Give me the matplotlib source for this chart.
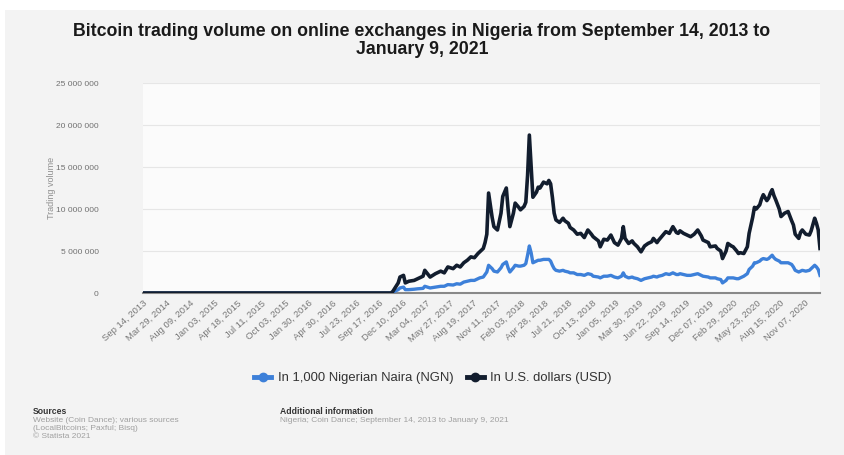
import numpy as np
import matplotlib.pyplot as plt
from matplotlib.patches import Rectangle
from matplotlib.lines import Line2D
from matplotlib.ticker import FuncFormatter

plt.rcParams['font.family'] = ['Liberation Sans', 'DejaVu Sans']

### Data ###
# week index since Sep 14, 2013 (weekly observations, last = Jan 9, 2021)
week = [0, 140, 141, 144, 145, 147, 148, 150, 153, 155, 158, 159, 162, 165, 168, 170,
        172, 175, 177, 179, 181, 183, 185, 187, 189, 190, 192, 193, 194, 195, 197, 198,
        200, 202, 203, 205, 206, 207, 209, 210, 212, 213, 215, 216, 217, 218, 219, 220,
        222, 223, 224, 226, 228, 229, 230, 231, 232, 233, 235, 237, 238, 240, 241, 243,
        245, 247, 249, 251, 253, 254, 257, 258, 260, 262, 264, 266, 268, 270, 271, 272,
        274, 276, 277, 279, 281, 283, 285, 287, 288, 290, 291, 293, 295, 297, 299, 301,
        302, 303, 305, 307, 309, 311, 313, 315, 316, 319, 320, 323, 324, 326, 327, 329,
        330, 332, 333, 335, 336, 337, 339, 341, 342, 344, 345, 346, 348, 349, 350, 352,
        353, 354, 355, 356, 357, 359, 360, 362, 364, 366, 367, 368, 370, 371, 372, 374,
        376, 377, 379, 380, 381, 382]

# trading volume in U.S. dollars (millions)
usd_m = [0, 0, 0.2, 1.2, 1.9, 2.1, 1.2, 1.4, 1.5, 1.7, 2.0, 2.7, 1.9, 2.3, 2.6, 2.4,
         3.1, 2.9, 3.3, 3.1, 3.6, 3.9, 4.3, 4.2, 4.7, 4.9, 5.3, 6.0, 7.0, 11.9, 9.0, 7.9,
         7.5, 9.5, 11.5, 12.5, 10.0, 7.9, 9.5, 10.7, 10.2, 9.9, 10.3, 10.8, 14.0, 18.8, 15.0, 11.4,
         12.0, 12.6, 12.5, 13.2, 13.0, 13.4, 13.0, 11.4, 9.5, 8.7, 8.4, 8.9, 8.6, 8.3, 7.8, 7.5,
         7.0, 7.1, 6.6, 7.5, 7.0, 6.7, 6.2, 5.5, 6.4, 6.3, 6.9, 6.0, 5.7, 6.5, 7.9, 6.5,
         5.9, 6.2, 5.9, 5.5, 4.9, 5.6, 5.9, 6.1, 6.5, 6.0, 6.3, 6.8, 7.3, 7.1, 7.9, 7.2,
         7.1, 7.4, 7.1, 6.9, 6.7, 7.0, 7.5, 6.8, 6.3, 6.0, 5.5, 5.6, 5.3, 5.0, 4.1, 5.0,
         5.9, 5.6, 5.5, 5.0, 4.7, 4.8, 4.7, 5.5, 7.1, 9.0, 10.2, 10.0, 10.5, 11.2, 11.7, 11.0,
         11.3, 11.9, 12.3, 11.6, 11.1, 10.0, 9.1, 9.5, 9.7, 8.6, 8.1, 7.0, 6.5, 7.2, 7.5, 7.0,
         6.9, 7.4, 8.9, 8.3, 7.5, 5.3]

# trading volume in 1,000 Nigerian Naira (millions)
ngn_m = [0, 0, 0.1, 0.4, 0.6, 0.7, 0.4, 0.4, 0.45, 0.5, 0.55, 0.8, 0.6, 0.7, 0.8, 0.8,
         1.0, 0.95, 1.1, 1.05, 1.3, 1.4, 1.5, 1.5, 1.7, 1.8, 1.9, 2.2, 2.5, 3.3, 2.9, 2.6,
         2.5, 3.0, 3.4, 3.7, 3.0, 2.5, 3.0, 3.3, 3.2, 3.2, 3.3, 3.5, 4.5, 5.6, 4.8, 3.6,
         3.8, 3.9, 3.9, 4.0, 4.0, 4.0, 3.8, 3.3, 2.9, 2.7, 2.6, 2.7, 2.6, 2.5, 2.4, 2.4,
         2.2, 2.2, 2.1, 2.3, 2.2, 2.0, 1.9, 1.8, 2.0, 2.0, 2.1, 1.9, 1.8, 2.0, 2.4, 2.0,
         1.8, 1.9, 1.8, 1.7, 1.5, 1.7, 1.8, 1.9, 2.0, 1.9, 2.0, 2.1, 2.3, 2.2, 2.4, 2.2,
         2.2, 2.3, 2.2, 2.1, 2.1, 2.2, 2.3, 2.1, 2.0, 1.9, 1.8, 1.8, 1.7, 1.6, 1.2, 1.5,
         1.8, 1.8, 1.8, 1.7, 1.7, 1.8, 2.0, 2.3, 2.8, 3.2, 3.6, 3.6, 3.8, 4.0, 4.1, 4.0,
         4.1, 4.3, 4.5, 4.2, 4.0, 3.8, 3.6, 3.6, 3.6, 3.4, 3.1, 2.7, 2.5, 2.6, 2.7, 2.6,
         2.7, 2.9, 3.3, 3.1, 2.8, 2.1]

tick_labels = ["Sep 14, 2013", "Mar 29, 2014", "Aug 09, 2014", "Jan 03, 2015", "Apr 18, 2015",
               "Jul 11, 2015", "Oct 03, 2015", "Jan 30, 2016", "Apr 30, 2016", "Jul 23, 2016",
               "Sep 17, 2016", "Dec 10, 2016", "Mar 04, 2017", "May 27, 2017", "Aug 19, 2017",
               "Nov 11, 2017", "Feb 03, 2018", "Apr 28, 2018", "Jul 21, 2018", "Oct 13, 2018",
               "Jan 05, 2019", "Mar 30, 2019", "Jun 22, 2019", "Sep 14, 2019", "Dec 07, 2019",
               "Feb 29, 2020", "May 23, 2020", "Aug 15, 2020", "Nov 07, 2020"]

series_labels = ["In 1,000 Nigerian Naira (NGN)", "In U.S. dollars (USD)"]
NGN_COLOR = '#3d80d9'
USD_COLOR = '#121d2e'

### Figure ###
fig = plt.figure(figsize=(8.44, 4.55), dpi=100)
fig.patch.set_facecolor('white')
# grey card behind the chart
fig.patches.append(Rectangle((5 / 844, 0), 1, 1 - 10 / 455, transform=fig.transFigure,
                             facecolor='#f3f3f3', edgecolor='none', zorder=-10))

ax = fig.add_axes([143 / 844, 1 - 293 / 455, 677 / 844, 210 / 455])
ax.set_zorder(1)
ax.set_facecolor('#fbfbfb')

x = np.array(week)
ax.plot(x, np.array(ngn_m) * 1e6, color=NGN_COLOR, lw=2.4, solid_joinstyle='round', zorder=3)
ax.plot(x, np.array(usd_m) * 1e6, color=USD_COLOR, lw=2.6, solid_joinstyle='round', zorder=4)

ax.set_xlim(0, 382)
ax.set_ylim(0, 25e6)
ax.set_yticks(np.arange(0, 25e6 + 1, 5e6))
ax.yaxis.set_major_formatter(FuncFormatter(lambda v, p: f"{int(v):,}".replace(',', ' ')))
ax.grid(axis='y', color='#e6e6e6', lw=0.8, zorder=0)

ax.set_xticks(np.linspace(0, 373, len(tick_labels)))
ax.set_xticklabels(tick_labels, rotation=42, ha='right', rotation_mode='anchor',
                   fontsize=6.8, color='#777777')
ax.tick_params(axis='x', length=0, pad=4)
ax.tick_params(axis='y', length=0, pad=32, labelsize=6, colors='#707070')

for side in ['top', 'right', 'left']:
    ax.spines[side].set_visible(False)
ax.spines['bottom'].set_color('#888888')
ax.spines['bottom'].set_linewidth(1.5)

ax.set_ylabel('Trading volume', fontsize=6.5, color='#909090')
ax.yaxis.set_label_coords(-0.128, 0.5)

### Title ###
fig.text(0.5, 1 - 32 / 455, "Bitcoin trading volume on online exchanges in Nigeria from September 14, 2013 to",
         ha='center', va='center', fontsize=12.8, fontweight='bold', color='#1a1a1a')
fig.text(0.5, 1 - 49 / 455, "January 9, 2021",
         ha='center', va='center', fontsize=12.8, fontweight='bold', color='#1a1a1a')

### Legend ###
handles = [Line2D([0], [0], color=NGN_COLOR, lw=3.5, marker='o', ms=6),
           Line2D([0], [0], color=USD_COLOR, lw=3.5, marker='o', ms=6)]
fig.legend(handles, series_labels, loc='center', bbox_to_anchor=(0.513, 1 - 378 / 455), ncol=2,
           frameon=False, fontsize=9.4, handlelength=1.3, columnspacing=1.0, handletextpad=0.5,
           labelcolor='#333333')

### Footer ###
fig.text(33 / 844, 1 - 411 / 455, "Sources", fontsize=6.2, fontweight='bold', color='#333333', va='center')
src_lines = ["Website (Coin Dance); various sources", "(LocalBitcoins; Paxful; Bisq)", "© Statista 2021"]
for i, line in enumerate(src_lines):
    fig.text(33 / 844, 1 - (420 + 8.5 * i) / 455, line, fontsize=6, color='#a0a0a0', va='center')
fig.text(280 / 844, 1 - 411 / 455, "Additional information", fontsize=6.2, fontweight='bold',
         color='#333333', va='center')
fig.text(280 / 844, 1 - 420 / 455, "Nigeria; Coin Dance; September 14, 2013 to January 9, 2021",
         fontsize=6, color='#a0a0a0', va='center')

fig.savefig('out.png', dpi=100)
